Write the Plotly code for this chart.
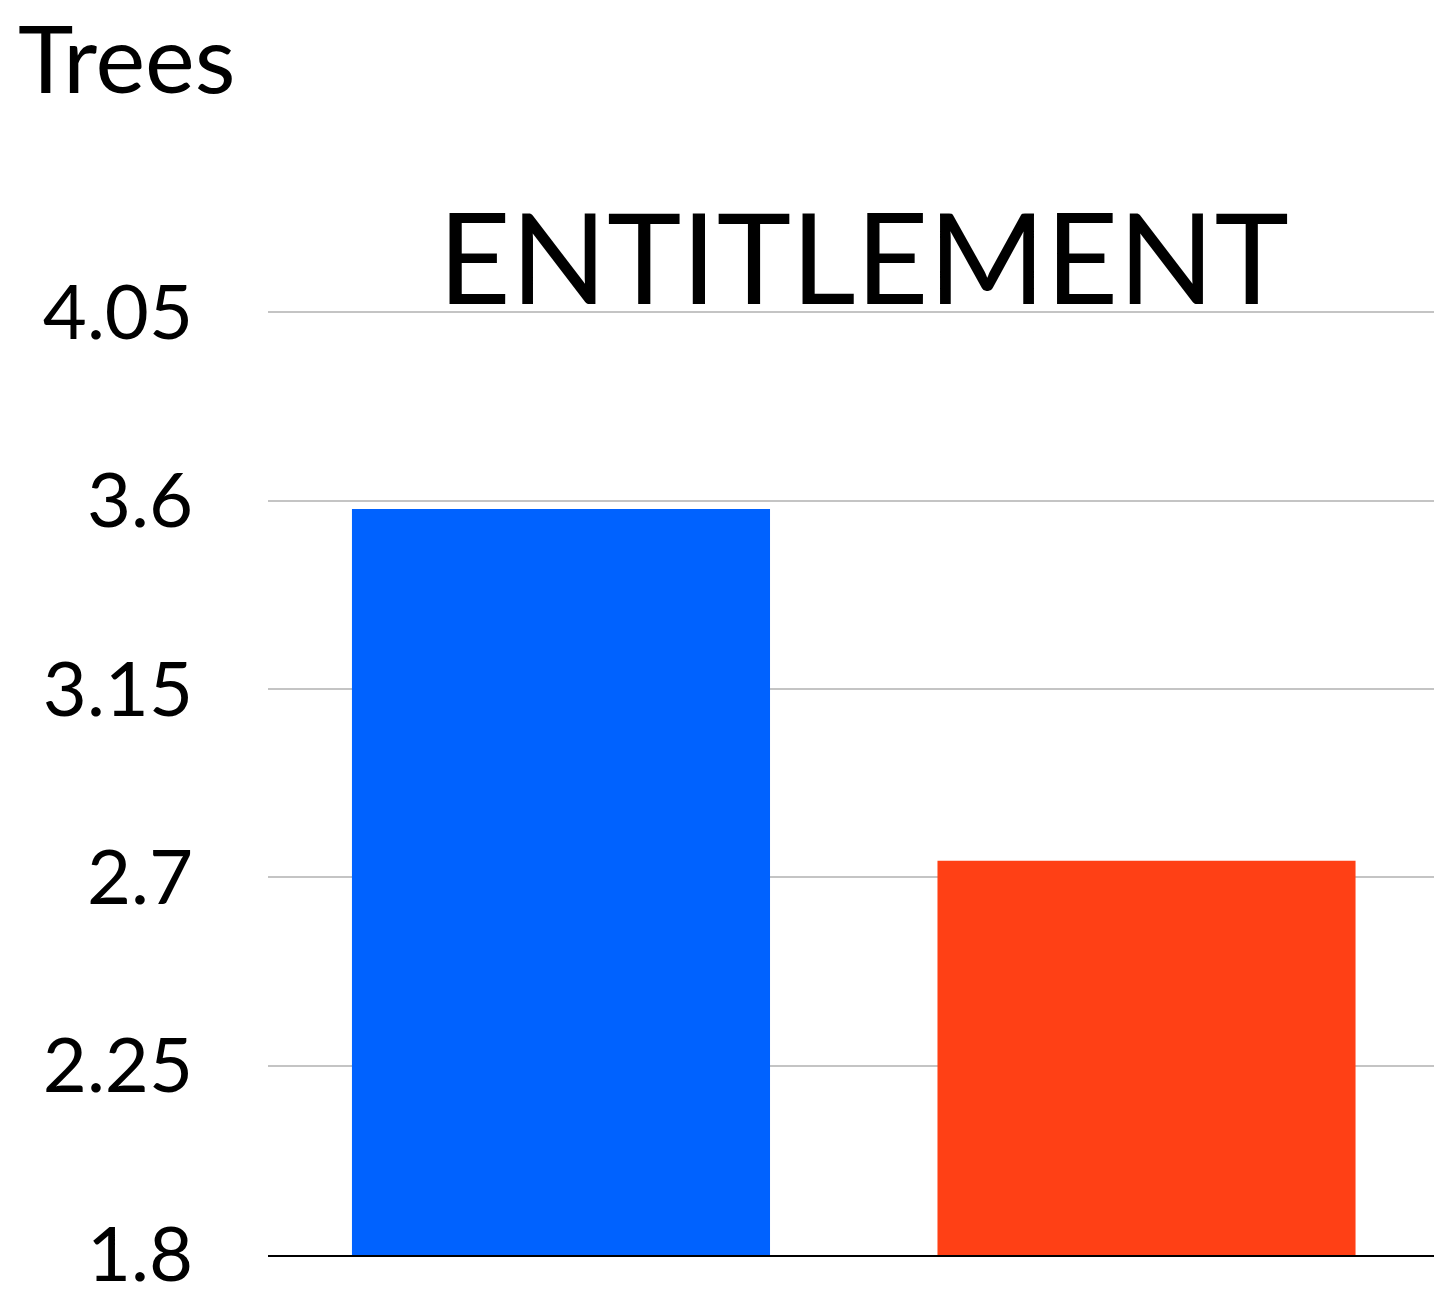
import plotly.graph_objects as go

# Survey result shown as two bars
categories = ["Group A", "Group B"]
values = [3.58, 2.74]
bar_colors = ["#0062FF", "#FF4015"]
tick_values = [1.8, 2.25, 2.7, 3.15, 3.6, 4.05]
tick_labels = ["1.8", "2.25", "2.7", "3.15", "3.6", "4.05"]

FONT = "Lato, 'Open Sans', sans-serif"
PLOT_W, PLOT_H = 1166, 947

fig = go.Figure(
    go.Bar(
        x=categories,
        y=values,
        width=0.714,
        marker=dict(color=bar_colors, line=dict(width=0)),
    )
)

fig.update_layout(
    width=1434,
    height=1298,
    margin=dict(l=268, r=0, t=308, b=43),
    paper_bgcolor="white",
    plot_bgcolor="white",
    showlegend=False,
    font=dict(family=FONT, color="black"),
    annotations=[
        dict(
            text="Trees",
            xref="paper", yref="paper",
            x=(16 - 268) / PLOT_W, y=1 + 251 / PLOT_H,
            xanchor="left", yanchor="middle",
            showarrow=False,
            font=dict(size=94, family=FONT, color="black"),
        ),
        dict(
            text="ENTITLEMENT",
            xref="paper", yref="paper",
            x=(863 - 268) / PLOT_W, y=1 + 53 / PLOT_H,
            xanchor="center", yanchor="middle",
            showarrow=False,
            font=dict(size=126, family=FONT, color="black"),
        ),
    ],
)

fig.update_yaxes(
    range=[1.798, 4.06],
    tickvals=tick_values,
    ticktext=tick_labels,
    tickfont=dict(size=76, family=FONT, color="black"),
    showgrid=True,
    gridcolor="#c4c4c4",
    gridwidth=2,
    zeroline=False,
    showline=False,
    ticks="",
    ticklabelstandoff=74,
)
fig.update_xaxes(
    range=[-0.5004, 1.491],
    showticklabels=False,
    ticks="",
    showline=True,
    linecolor="black",
    linewidth=2,
    showgrid=False,
)

fig.write_html("out.html")
